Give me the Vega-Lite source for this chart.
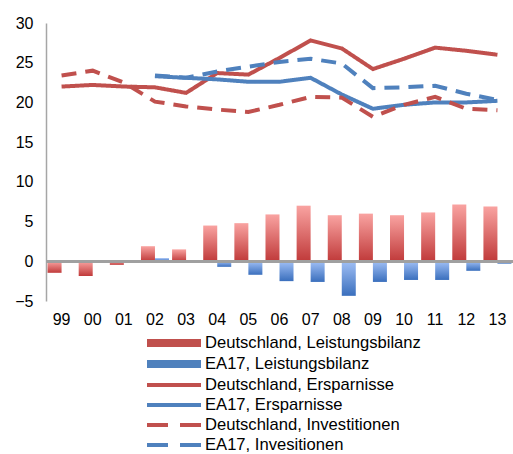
{
  "$schema": "https://vega.github.io/schema/vega-lite/v6.json",
  "width": 467,
  "height": 278,
  "autosize": "none",
  "padding": {"left": 46, "top": 23, "right": 0, "bottom": 153},
  "config": {
    "font": "Liberation Sans",
    "view": {"stroke": null},
    "axis": {"labelFont": "Liberation Sans", "labelFontSize": 16, "labelColor": "#000000"}
  },
  "data": {
    "values": [
      {"year": "99", "series": "Deutschland, Leistungsbilanz", "value": -1.45},
      {"year": "00", "series": "Deutschland, Leistungsbilanz", "value": -1.85},
      {"year": "01", "series": "Deutschland, Leistungsbilanz", "value": -0.45},
      {"year": "02", "series": "Deutschland, Leistungsbilanz", "value": 1.9},
      {"year": "03", "series": "Deutschland, Leistungsbilanz", "value": 1.5},
      {"year": "04", "series": "Deutschland, Leistungsbilanz", "value": 4.5},
      {"year": "05", "series": "Deutschland, Leistungsbilanz", "value": 4.8},
      {"year": "06", "series": "Deutschland, Leistungsbilanz", "value": 5.9},
      {"year": "07", "series": "Deutschland, Leistungsbilanz", "value": 7.0},
      {"year": "08", "series": "Deutschland, Leistungsbilanz", "value": 5.8},
      {"year": "09", "series": "Deutschland, Leistungsbilanz", "value": 6.0},
      {"year": "10", "series": "Deutschland, Leistungsbilanz", "value": 5.8},
      {"year": "11", "series": "Deutschland, Leistungsbilanz", "value": 6.15},
      {"year": "12", "series": "Deutschland, Leistungsbilanz", "value": 7.15},
      {"year": "13", "series": "Deutschland, Leistungsbilanz", "value": 6.9},
      {"year": "02", "series": "EA17, Leistungsbilanz", "value": 0.4},
      {"year": "03", "series": "EA17, Leistungsbilanz", "value": -0.15},
      {"year": "04", "series": "EA17, Leistungsbilanz", "value": -0.7},
      {"year": "05", "series": "EA17, Leistungsbilanz", "value": -1.7},
      {"year": "06", "series": "EA17, Leistungsbilanz", "value": -2.5},
      {"year": "07", "series": "EA17, Leistungsbilanz", "value": -2.6},
      {"year": "08", "series": "EA17, Leistungsbilanz", "value": -4.35},
      {"year": "09", "series": "EA17, Leistungsbilanz", "value": -2.6},
      {"year": "10", "series": "EA17, Leistungsbilanz", "value": -2.35},
      {"year": "11", "series": "EA17, Leistungsbilanz", "value": -2.35},
      {"year": "12", "series": "EA17, Leistungsbilanz", "value": -1.2},
      {"year": "13", "series": "EA17, Leistungsbilanz", "value": -0.3},
      {"year": "99", "series": "Deutschland, Ersparnisse", "value": 22.0},
      {"year": "00", "series": "Deutschland, Ersparnisse", "value": 22.2},
      {"year": "01", "series": "Deutschland, Ersparnisse", "value": 22.0},
      {"year": "02", "series": "Deutschland, Ersparnisse", "value": 21.9},
      {"year": "03", "series": "Deutschland, Ersparnisse", "value": 21.2},
      {"year": "04", "series": "Deutschland, Ersparnisse", "value": 23.7},
      {"year": "05", "series": "Deutschland, Ersparnisse", "value": 23.5},
      {"year": "06", "series": "Deutschland, Ersparnisse", "value": 25.6},
      {"year": "07", "series": "Deutschland, Ersparnisse", "value": 27.8},
      {"year": "08", "series": "Deutschland, Ersparnisse", "value": 26.8},
      {"year": "09", "series": "Deutschland, Ersparnisse", "value": 24.2},
      {"year": "10", "series": "Deutschland, Ersparnisse", "value": 25.5},
      {"year": "11", "series": "Deutschland, Ersparnisse", "value": 26.9},
      {"year": "12", "series": "Deutschland, Ersparnisse", "value": 26.5},
      {"year": "13", "series": "Deutschland, Ersparnisse", "value": 26.0},
      {"year": "02", "series": "EA17, Ersparnisse", "value": 23.3},
      {"year": "03", "series": "EA17, Ersparnisse", "value": 23.1},
      {"year": "04", "series": "EA17, Ersparnisse", "value": 22.9},
      {"year": "05", "series": "EA17, Ersparnisse", "value": 22.6},
      {"year": "06", "series": "EA17, Ersparnisse", "value": 22.6},
      {"year": "07", "series": "EA17, Ersparnisse", "value": 23.1},
      {"year": "08", "series": "EA17, Ersparnisse", "value": 21.0},
      {"year": "09", "series": "EA17, Ersparnisse", "value": 19.2},
      {"year": "10", "series": "EA17, Ersparnisse", "value": 19.7},
      {"year": "11", "series": "EA17, Ersparnisse", "value": 20.0},
      {"year": "12", "series": "EA17, Ersparnisse", "value": 20.0},
      {"year": "13", "series": "EA17, Ersparnisse", "value": 20.2},
      {"year": "99", "series": "Deutschland, Investitionen", "value": 23.4},
      {"year": "00", "series": "Deutschland, Investitionen", "value": 24.0},
      {"year": "01", "series": "Deutschland, Investitionen", "value": 22.5},
      {"year": "02", "series": "Deutschland, Investitionen", "value": 20.1},
      {"year": "03", "series": "Deutschland, Investitionen", "value": 19.5},
      {"year": "04", "series": "Deutschland, Investitionen", "value": 19.1},
      {"year": "05", "series": "Deutschland, Investitionen", "value": 18.8},
      {"year": "06", "series": "Deutschland, Investitionen", "value": 19.7},
      {"year": "07", "series": "Deutschland, Investitionen", "value": 20.7},
      {"year": "08", "series": "Deutschland, Investitionen", "value": 20.6},
      {"year": "09", "series": "Deutschland, Investitionen", "value": 18.2},
      {"year": "10", "series": "Deutschland, Investitionen", "value": 19.7},
      {"year": "11", "series": "Deutschland, Investitionen", "value": 20.7},
      {"year": "12", "series": "Deutschland, Investitionen", "value": 19.2},
      {"year": "13", "series": "Deutschland, Investitionen", "value": 19.0},
      {"year": "02", "series": "EA17, Invesitionen", "value": 23.4},
      {"year": "03", "series": "EA17, Invesitionen", "value": 23.1},
      {"year": "04", "series": "EA17, Invesitionen", "value": 23.9},
      {"year": "05", "series": "EA17, Invesitionen", "value": 24.5},
      {"year": "06", "series": "EA17, Invesitionen", "value": 25.1},
      {"year": "07", "series": "EA17, Invesitionen", "value": 25.5},
      {"year": "08", "series": "EA17, Invesitionen", "value": 24.9},
      {"year": "09", "series": "EA17, Invesitionen", "value": 21.8},
      {"year": "10", "series": "EA17, Invesitionen", "value": 21.9},
      {"year": "11", "series": "EA17, Invesitionen", "value": 22.1},
      {"year": "12", "series": "EA17, Invesitionen", "value": 21.1},
      {"year": "13", "series": "EA17, Invesitionen", "value": 20.3}
    ]
  },
  "layer": [
    {
      "transform": [{"filter": "datum.series == 'Deutschland, Leistungsbilanz'"}],
      "mark": {"type": "bar", "color": {"gradient": "linear", "x1": 0, "y1": 0, "x2": 0, "y2": 1, "stops": [{"offset": 0, "color": "#f9a3a1"}, {"offset": 1, "color": "#c03a3a"}]}},
      "encoding": {
        "x": {"field": "year", "type": "nominal", "title": null,
          "scale": {"domain": ["99","00","01","02","03","04","05","06","07","08","09","10","11","12","13"], "paddingInner": 0.1, "paddingOuter": 0.05},
          "axis": {"ticks": false, "tickSize": 0, "domain": false, "labelAngle": 0, "labelPadding": 10, "grid": false}},
        "xOffset": {"field": "series", "type": "nominal", "scale": {"domain": ["Deutschland, Leistungsbilanz", "EA17, Leistungsbilanz"], "paddingInner": 0, "paddingOuter": 0}},
        "y": {"field": "value", "type": "quantitative", "title": null,
          "scale": {"domain": [-5, 30], "nice": false, "zero": false},
          "axis": {"values": [-5, 0, 5, 10, 15, 20, 25, 30], "tickCount": 10, "labelOverlap": false, "grid": false, "ticks": false, "tickSize": 0, "domainColor": "#a6a6a6", "domainWidth": 1.5, "labelPadding": 13}}
      }
    },
    {
      "transform": [{"filter": "datum.series == 'EA17, Leistungsbilanz'"}],
      "mark": {"type": "bar", "color": {"gradient": "linear", "x1": 0, "y1": 0, "x2": 0, "y2": 1, "stops": [{"offset": 0, "color": "#a0bff5"}, {"offset": 1, "color": "#3a6fbd"}]}},
      "encoding": {
        "x": {"field": "year", "type": "nominal"},
        "xOffset": {"field": "series", "type": "nominal"},
        "y": {"field": "value", "type": "quantitative"}
      }
    },
    {
      "mark": {"type": "rule", "color": "#a0a0a0", "strokeWidth": 2},
      "encoding": {"y": {"datum": 0, "type": "quantitative"}}
    },
    {
      "transform": [{"filter": "indexof(datum.series, 'Leistungsbilanz') < 0"}],
      "mark": {"type": "line", "strokeWidth": 4},
      "encoding": {
        "x": {"field": "year", "type": "nominal"},
        "y": {"field": "value", "type": "quantitative"},
        "color": {"field": "series", "type": "nominal",
          "scale": {"domain": ["Deutschland, Leistungsbilanz", "EA17, Leistungsbilanz", "Deutschland, Ersparnisse", "EA17, Ersparnisse", "Deutschland, Investitionen", "EA17, Invesitionen"],
                    "range": ["#c0504d", "#4f81bd", "#c0504d", "#4f81bd", "#c0504d", "#4f81bd"]},
          "legend": {
            "title": null, "orient": "none", "legendX": 117, "legendY": 309,
            "symbolSize": 324, "labelFont": "Liberation Sans", "labelFontSize": 16.6, "labelColor": "#000000",
            "labelOffset": 20, "rowPadding": 0, "padding": 0, "labelLimit": 400, "symbolStrokeWidth": 4, "symbolOpacity": 1,
            "encode": {
              "symbols": {
                "update": {
                  "shape": {"signal": "indexof(datum.value, 'Leistungsbilanz') >= 0 ? 'M-3,-0.22H3M-3,0H3M-3,0.22H3' : 'M-3,0H3'"},
                  "stroke": {"signal": "datum.value == 'Deutschland, Leistungsbilanz' ? '#e27a77' : datum.value == 'EA17, Leistungsbilanz' ? '#729ade' : indexof(datum.value, 'Deutschland') == 0 ? '#c0504d' : '#4f81bd'"},
                  "strokeDash": {"signal": "indexof(datum.value, 'Inves') >= 0 ? [21, 12] : [1, 0]"},
                  "fill": {"value": "transparent"},
                  "opacity": {"value": 1}
                }
              }
            }
          }
        },
        "strokeDash": {"field": "series", "type": "nominal", "legend": null,
          "scale": {"domain": ["Deutschland, Ersparnisse", "EA17, Ersparnisse", "Deutschland, Investitionen", "EA17, Invesitionen"],
                    "range": [[1, 0], [1, 0], [15, 9], [15, 9]]}}
      }
    }
  ]
}
